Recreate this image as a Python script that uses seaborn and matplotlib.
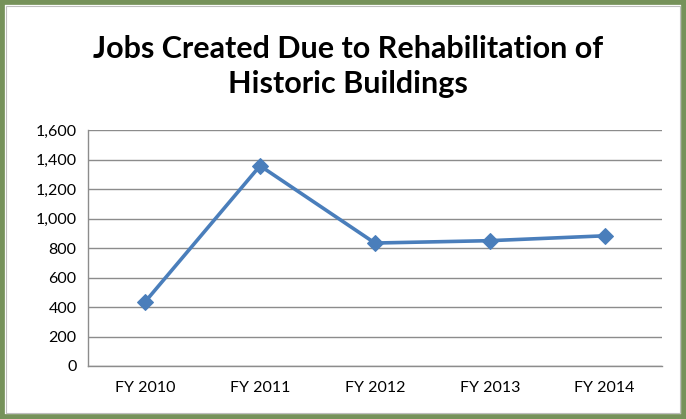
import matplotlib
matplotlib.use("Agg")
import matplotlib.pyplot as plt
from matplotlib.patches import Rectangle
from matplotlib.ticker import FuncFormatter
import seaborn as sns
import pandas as pd

years = ["FY 2010", "FY 2011", "FY 2012", "FY 2013", "FY 2014"]
jobs = [436, 1358, 834, 850, 883]
y_ticks = [0, 200, 400, 600, 800, 1000, 1200, 1400, 1600]

df = pd.DataFrame({"pos": range(len(years)), "year": years, "jobs": jobs})

sns.set_style("white")
plt.rcParams['font.family'] = ['Lato', 'DejaVu Sans']

fig = plt.figure(figsize=(6.86, 4.19), dpi=100)
ax = fig.add_axes([0.128, 0.1265, 0.837, 0.563])

sns.lineplot(data=df, x="pos", y="jobs", ax=ax, color="#4A7EBB", linewidth=2.6,
             marker="D", markersize=8, markeredgecolor="#4A7EBB")

ax.set_xlim(-0.5, len(years) - 0.5)
ax.set_ylim(0, 1600)
ax.set_yticks(y_ticks)
ax.yaxis.set_major_formatter(FuncFormatter(lambda v, p: f"{int(v):,}"))
ax.grid(axis="y", color="#8C8C8C", linewidth=1)
ax.set_axisbelow(True)

# category labels centred, tick marks on category boundaries (Excel style)
ax.set_xticks([i - 0.5 for i in range(len(years) + 1)])
ax.set_xticklabels([])
ax.set_xticks(range(len(years)), minor=True)
ax.set_xticklabels(years, minor=True)
ax.tick_params(axis="x", which="major", length=5, width=1, color="#8C8C8C", direction="out")
ax.tick_params(axis="x", which="minor", length=0, pad=11, labelsize=11.5, labelcolor="black")
ax.tick_params(axis="y", length=5, width=1, color="#8C8C8C", direction="out",
               labelsize=11.5, labelcolor="black", pad=3)
ax.set_xlabel("")
ax.set_ylabel("")

for side in ["top", "right"]:
    ax.spines[side].set_visible(False)
for side in ["left", "bottom"]:
    ax.spines[side].set_color("#8C8C8C")
    ax.spines[side].set_linewidth(1)

fig.text(0.507, 0.842, "Jobs Created Due to Rehabilitation of\nHistoric Buildings",
         ha="center", va="center", fontsize=22, fontweight="bold", color="black",
         linespacing=1.3)

# green frame
fig.patches.append(Rectangle((0, 0), 1, 1, transform=fig.transFigure, fill=False,
                             edgecolor="#76925A", linewidth=7, zorder=10))
fig.patches.append(Rectangle((6 / 686, 6 / 419), 1 - 12 / 686, 1 - 12 / 419,
                             transform=fig.transFigure, fill=False,
                             edgecolor="#BFBFBF", linewidth=0.8, zorder=10))

fig.savefig("out.png", dpi=100)
